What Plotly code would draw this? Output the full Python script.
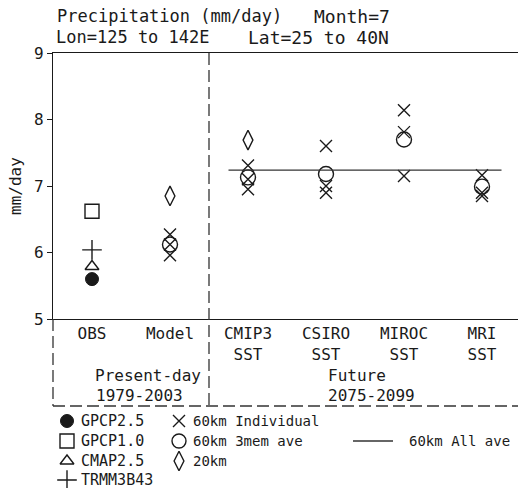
import plotly.graph_objects as go

# ---------------- data ----------------
categories = ["OBS", "Model", "CMIP3", "CSIRO", "MIROC", "MRI"]
tick_text = ["OBS", "Model", "CMIP3<br>SST", "CSIRO<br>SST", "MIROC<br>SST", "MRI<br>SST"]
y_ticks = [5, 6, 7, 8, 9]

gpcp25 = 5.60
gpcp10 = 6.62
cmap25 = 5.79
trmm3b43 = 6.04

indiv_cats = ["Model", "CMIP3", "CSIRO", "MIROC", "MRI"]
indiv_60km = [
    [6.27, 6.12, 5.96],
    [7.31, 7.10, 6.95],
    [7.60, 7.00, 6.90],
    [8.14, 7.81, 7.15],
    [7.16, 6.90, 6.85],
]
ave_60km = [6.12, 7.13, 7.18, 7.70, 6.99]
km20_cats = ["Model", "CMIP3"]
km20 = [6.85, 7.69]
all_ave_60km = 7.24

# ---------------- layout constants (screen pixels) ----------------
OFF = 0                      # page body margin removed via post_script
SW, SH = 518, 488            # window
W, H = SW - OFF, SH - OFF    # figure size
PL, PR, PT, PB = 53, 518, 53, 319   # plot box on screen
XMIN, YMIN, YMAX = -0.5, 5, 9
PX_PER_CAT = 78.0
XMAX = XMIN + (PR - PL) / PX_PER_CAT
FONT = "DejaVu Sans Mono"
INK = "#1a1a1a"
GREY = "#333333"

def xpos(c):
    return categories.index(c)

fig = go.Figure()
mk = dict(color=INK, line=dict(color=INK, width=1.4))
sym = {
    "GPCP2.5": dict(symbol="circle", size=13, color=INK, line=dict(color=INK, width=1)),
    "GPCP1.0": dict(symbol="square-open", size=14, **mk),
    "CMAP2.5": dict(symbol="triangle-up-open", size=12, **mk),
    "TRMM3B43": dict(symbol="cross-thin-open", size=14, **mk),
    "60km Individual": dict(symbol="x-thin-open", size=12, **mk),
    "60km 3mem ave": dict(symbol="circle-open", size=15, **mk),
    "20km": dict(symbol="diamond-tall-open", size=14, **mk),
}

# observations
for name, val in [("GPCP2.5", gpcp25), ("GPCP1.0", gpcp10), ("CMAP2.5", cmap25), ("TRMM3B43", trmm3b43)]:
    fig.add_trace(go.Scatter(x=[xpos("OBS")], y=[val], mode="markers", marker=sym[name]))

# 60km individual
xs, ys = [], []
for c, vals in zip(indiv_cats, indiv_60km):
    for v in vals:
        xs.append(xpos(c)); ys.append(v)
fig.add_trace(go.Scatter(x=xs, y=ys, mode="markers", marker=sym["60km Individual"]))
# 60km 3-member average
fig.add_trace(go.Scatter(x=[xpos(c) for c in indiv_cats], y=ave_60km, mode="markers",
                         marker=sym["60km 3mem ave"]))
# 20km
fig.add_trace(go.Scatter(x=[xpos(c) for c in km20_cats], y=km20, mode="markers",
                         marker=sym["20km"]))
# 60km all average line (future)
fig.add_trace(go.Scatter(x=[xpos("CMIP3") - 0.25, xpos("MRI") + 0.25],
                         y=[all_ave_60km, all_ave_60km], mode="lines",
                         line=dict(color=GREY, width=1.3)))

# ---------------- overlay in screen pixels (x2/y2) ----------------
def txt(x, y, s, size=16, anchor="left", angle=0):
    fig.add_annotation(x=x, y=y, xref="x2", yref="y2", text=s, showarrow=False,
                       xanchor=anchor, yanchor="middle", textangle=angle,
                       font=dict(family=FONT, size=size, color=INK))

# legend (built by hand)
leg_rows = [421, 441, 461, 480]
leg_items = [
    (67, leg_rows[0], "GPCP2.5"), (67, leg_rows[1], "GPCP1.0"),
    (67, leg_rows[2], "CMAP2.5"), (67, leg_rows[3], "TRMM3B43"),
    (179, leg_rows[0], "60km Individual"), (179, leg_rows[1], "60km 3mem ave"),
    (179, leg_rows[2], "20km"),
]
for lx, ly, name in leg_items:
    m = dict(sym[name])
    if name == "60km 3mem ave":
        m["size"] = 14
    fig.add_trace(go.Scatter(x=[lx], y=[ly], xaxis="x2", yaxis="y2", mode="markers", marker=m))
    txt(lx + 12, ly, name, size=15 if lx < 100 else 14)
fig.add_shape(type="line", xref="x2", yref="y2", x0=353, x1=393, y0=leg_rows[1], y1=leg_rows[1],
              line=dict(color=GREY, width=1.3))
txt(407, leg_rows[1], "60km All ave", size=14)

# dashed frame lines
dash = "12px,5px"
ybot = 406
xdiv = PL + (1.5 - XMIN) * PX_PER_CAT
fig.add_shape(type="line", xref="x2", yref="y2", x0=PL, x1=SW, y0=ybot, y1=ybot,
              line=dict(color=GREY, width=1.3, dash=dash))
fig.add_shape(type="line", xref="x2", yref="y2", x0=PL, x1=PL, y0=PB, y1=ybot,
              line=dict(color=GREY, width=1.3, dash=dash))
fig.add_shape(type="line", xref="x2", yref="y2", x0=xdiv, x1=xdiv, y0=PT, y1=ybot,
              line=dict(color=GREY, width=1.3, dash=dash))

# period labels
txt(93, 375, "Present-day")
txt(326, 375, "Future")
txt(94, 395, "1979-2003")
txt(326, 395, "2075-2099")

# titles
txt(55, 16, "Precipitation (mm/day)", size=17)
txt(312, 16, "Month=7", size=18)
txt(54, 37, "Lon=125 to 142E", size=17)
txt(246, 37, "Lat=25 to 40N", size=18)

# y-axis title
txt(15, 186, "mm/day", anchor="center", angle=-90)

fig.update_layout(
    width=W, height=H, margin=dict(l=0, r=0, t=0, b=0, pad=0, autoexpand=False),
    paper_bgcolor="white", plot_bgcolor="rgba(0,0,0,0)", showlegend=False,
    font=dict(family=FONT, size=16, color=INK),
    xaxis=dict(domain=[(PL - OFF) / W, (PR - OFF) / W], anchor="y",
               range=[XMIN, XMAX], tickvals=list(range(len(categories))), ticktext=tick_text,
               showgrid=False, zeroline=False, showline=True, mirror=True, linecolor=INK,
               linewidth=1.3, ticks="", automargin=False,
               tickfont=dict(family=FONT, size=16, color=INK)),
    yaxis=dict(domain=[(SH - PB) / H, (SH - PT) / H], anchor="x",
               range=[YMIN, YMAX], tickvals=y_ticks, showgrid=False, zeroline=False,
               showline=True, linecolor=INK, linewidth=1.3, ticks="outside", ticklen=5,
               tickcolor=INK, automargin=False, tickfont=dict(family=FONT, size=16, color=INK)),
    xaxis2=dict(domain=[0, 1], anchor="y2", range=[OFF, SW], visible=False),
    yaxis2=dict(domain=[0, 1], anchor="x2", range=[SH, OFF], visible=False),
)

fig.write_html("out.html", config={"displayModeBar": False},
               post_script="document.body.style.margin='0';document.body.style.overflow='hidden';")
